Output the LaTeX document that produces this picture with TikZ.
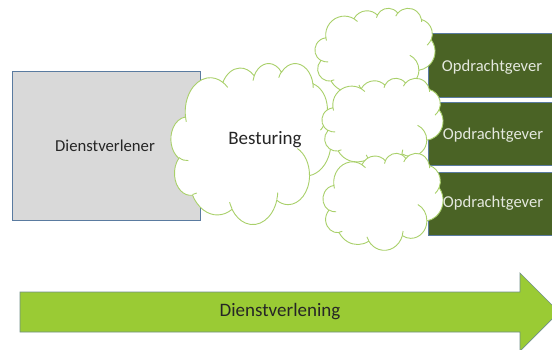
\documentclass[tikz,border=0pt]{standalone}
\usepackage{fontspec}
\setmainfont{Carlito}
\definecolor{boxgray}{HTML}{D9D9D9}
\definecolor{boxedge}{HTML}{5A7BA0}
\definecolor{olive}{HTML}{4A6325}
\definecolor{cloudline}{HTML}{A9D06A}
\definecolor{arrowfill}{HTML}{9ACB34}
\definecolor{arrowedge}{HTML}{6F8F86}
\definecolor{inktext}{HTML}{262626}
\definecolor{lighttext}{HTML}{E4E8DE}
% elliptical arc given by radii, start direction and sweep (degrees, y pointing down)
\newcommand\ooarc[4]{arc[x radius=#1, y radius=#2,
  start angle={atan2(#1*sin(#3),#2*cos(#3))},
  delta angle={mod(atan2(#1*sin(#3+#4),#2*cos(#3+#4))-atan2(#1*sin(#3),#2*cos(#3))+720,360)}]}
\tikzset{
  cloudpath/.style={draw=cloudline, fill=white, line width=0.9pt, line join=round},
  cloudinner/.style={draw=cloudline, line width=0.9pt},
  clientbox/.style={draw=boxedge, fill=olive, line width=0.6pt},
  clienttext/.style={text=lighttext, font=\fontsize{16.6}{20}\selectfont},
  % cloud outline in a 432 x 432 box, origin at its top left corner
  ocloud/.pic={
    \begin{scope}[x=1pt,y=1pt]
    \path[cloudpath] (39,143.70)
      \ooarc{67.53}{91.90}{-190.4875}{123.7805}
      \ooarc{53.33}{72.67}{-144.1024}{89.9452}
      \ooarc{43.65}{59.45}{-145.8079}{99.7230}
      \ooarc{48.57}{65.95}{-130.9861}{117.2417}
      \ooarc{53.33}{72.73}{-78.7089}{109.0269}
      \ooarc{67.75}{92.20}{-46.2673}{130.2690}
      \ooarc{57.85}{78.67}{0.6250}{114.0333}
      \ooarc{67.52}{92.15}{22.4516}{115.1726}
      \ooarc{77.20}{105.43}{66.2426}{75.7110}
      \ooarc{43.60}{59.18}{-274.9421}{146.7356}
      \ooarc{43.45}{59.45}{-246.8285}{152.5189} -- cycle;
    \path[cloudinner]
      (46.93,261.77) \ooarc{43.45}{59.45}{86.7420}{26.4295}
      (69.28,348.99) \ooarc{43.60}{59.18}{73.6105}{11.4475}
      (164.78,390.90) \ooarc{67.52}{92.15}{137.6242}{14.0811}
      (288.27,347.51) \ooarc{67.52}{92.15}{6.4533}{15.9984}
      (341.29,229.54) \ooarc{57.85}{78.67}{-70.2924}{70.9174}
      (417.98,153.54) \ooarc{53.33}{72.73}{30.3180}{27.7515}
      (383.24,54.26) \ooarc{48.57}{65.95}{-13.7443}{14.8589}
      (290.78,39.52) \ooarc{48.57}{65.95}{-149.1815}{18.1954}
      (221.41,47.20) \ooarc{43.65}{59.45}{-163.4943}{17.6864}
      (140.00,51.92) \ooarc{67.53}{91.90}{-66.7070}{12.3194}
      (41.27,157.89) \ooarc{67.53}{91.90}{157.6544}{11.8582};
    \end{scope}
  },
}
\begin{document}
\begin{tikzpicture}[x=1pt,y=-1pt]
\useasboundingbox (0,0) rectangle (552,349);
\clip (0,0) rectangle (552,349);

% service provider
\node[draw=boxedge, fill=boxgray, line width=0.7pt, minimum width=188pt,
  minimum height=149pt, inner sep=0pt, anchor=north west] (prov) at (12,71) {};
\node[text=inktext, font=\fontsize{16.7}{20}\selectfont] (provt) at (105,146) {Dienstverlener};

% central steering cloud
\pic[xscale=0.3704, yscale=-0.3727] at (171,63) {ocloud};
\node[text=inktext, font=\fontsize{19}{22}\selectfont] (best) at (265,140) {Besturing};

% clients
\node[clientbox, minimum width=130pt, minimum height=64pt, anchor=north west] (c1) at (428,33) {};
\node[clientbox, minimum width=130pt, minimum height=63pt, anchor=north west] (c2) at (428,102) {};
\node[clientbox, minimum width=130pt, minimum height=63pt, anchor=north west] (c3) at (428,172) {};
\node[clienttext] (c1t) at (492,67) {Opdrachtgever};
\node[clienttext] (c2t) at (493,135) {Opdrachtgever};
\node[clienttext] (c3t) at (493,203) {Opdrachtgever};

% per-client clouds
\pic[xscale=0.2778, yscale=-0.2060] at (315,8) {ocloud};
\pic[xscale=0.2801, yscale=-0.2060] at (322,78) {ocloud};
\pic[xscale=0.2778, yscale=-0.2245] at (323,153) {ocloud};

% service delivery arrow
\draw[fill=arrowfill, draw=arrowedge, line width=0.7pt]
  (20,292) -- (520,292) -- (520,273) -- (559,312) -- (520,351) -- (520,332) -- (20,332) -- cycle;
\node[text=inktext, font=\fontsize{19}{22}\selectfont] (dv) at (280,312) {Dienstverlening};
\end{tikzpicture}
\end{document}
